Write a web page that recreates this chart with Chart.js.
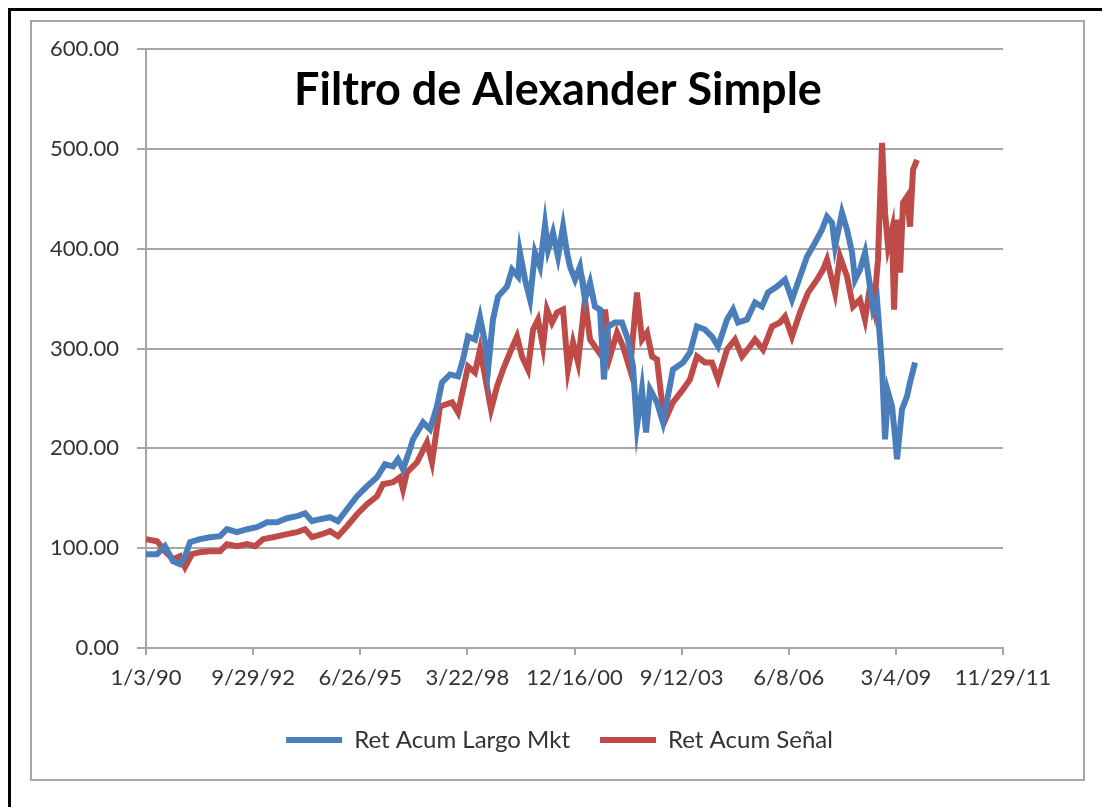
<!DOCTYPE html>
<html>
<head>
<meta charset="utf-8">
<script src="https://cdn.jsdelivr.net/npm/chart.js@4/dist/chart.umd.min.js"></script>
<style>
  html, body { margin: 0; padding: 0; background: #fff; }
  #marco { position: relative; width: 1102px; height: 807px; }
  #bordeNegro { position: absolute; left: 8px; top: 8px; right: 0; bottom: 0; border-left: 3px solid #000; border-top: 3px solid #000; }
  #bordeGris { position: absolute; left: 30px; top: 20px; width: 1051px; height: 757px; border: 2px solid #a6a6a6; }
  canvas { position: absolute; left: 0; top: 0; }
</style>
</head>
<body>
<div id="marco">
  <div id="bordeNegro"></div>
  <div id="bordeGris"></div>
  <canvas id="graficoFiltro" width="1102" height="807"></canvas>
</div>
<script>
// 1. Datos (dias desde 1/3/90 y retorno acumulado)
const titulo = 'Filtro de Alexander Simple';
const nombreMkt = 'Ret Acum Largo Mkt';
const nombreSenal = 'Ret Acum Señal';

const diasMkt = [0, 103, 177, 252, 317, 364, 411, 504, 598, 691, 756, 849, 943, 1036, 1130, 1223, 1316, 1409, 1484, 1550,
  1624, 1718, 1792, 1876, 1970, 2063, 2156, 2231, 2306, 2352, 2399, 2464, 2492, 2586, 2651, 2716, 2763, 2838, 2913, 2959,
  3006, 3071, 3118, 3165, 3193, 3239, 3286, 3370, 3417, 3473, 3491, 3538, 3585, 3631, 3678, 3725, 3753, 3799, 3846, 3893,
  3930, 3958, 4005, 4051, 4098, 4145, 4191, 4238, 4275, 4313, 4378, 4443, 4499, 4546, 4583, 4630, 4668, 4705, 4770, 4826,
  4919, 5013, 5078, 5143, 5218, 5283, 5340, 5424, 5480, 5526, 5610, 5685, 5750, 5806, 5890, 5965, 6030, 6105, 6170, 6245,
  6310, 6357, 6404, 6432, 6497, 6544, 6591, 6619, 6665, 6712, 6740, 6787, 6824, 6871, 6899, 6927, 6964, 6992, 7011, 7057,
  7104, 7132, 7179];
const retMkt = [94, 94, 102, 87, 84, 92, 106, 109, 111, 112, 119, 116, 119, 121, 126, 126, 130, 132, 135, 127,
  129, 131, 127, 139, 152, 162, 171, 184, 182, 189, 179, 199, 209, 226, 219, 242, 266, 274, 272, 289,
  312, 309, 331, 306, 279, 329, 352, 362, 379, 372, 396, 369, 349, 396, 382, 424, 399, 416, 392, 422,
  396, 382, 369, 382, 349, 366, 342, 339, 269, 322, 326, 326, 309, 282, 222, 259, 216, 259, 246, 226,
  279, 286, 296, 322, 319, 312, 302, 329, 339, 326, 329, 346, 342, 356, 362, 369, 349, 372, 392, 406,
  419, 432, 426, 402, 436, 419, 396, 369, 379, 396, 376, 339, 349, 282, 209, 256, 242, 212, 189, 239,
  252, 266, 286];

const diasSenal = [0, 103, 177, 252, 317, 364, 429, 504, 598, 691, 756, 849, 943, 1018, 1092, 1186, 1316, 1409, 1484, 1550,
  1643, 1718, 1792, 1876, 1970, 2063, 2156, 2212, 2306, 2371, 2399, 2436, 2530, 2623, 2670, 2744, 2857, 2913, 3006, 3071,
  3118, 3165, 3221, 3277, 3333, 3398, 3463, 3510, 3566, 3613, 3659, 3706, 3743, 3790, 3837, 3893, 3939, 3986, 4033, 4098,
  4145, 4210, 4257, 4285, 4331, 4397, 4453, 4518, 4583, 4630, 4677, 4724, 4770, 4807, 4845, 4919, 5013, 5078, 5143, 5218,
  5283, 5340, 5424, 5498, 5564, 5638, 5685, 5760, 5844, 5918, 5965, 6030, 6105, 6180, 6264, 6320, 6357, 6432, 6478, 6544,
  6600, 6665, 6712, 6759, 6796, 6833, 6871, 6899, 6927, 6964, 6983, 7011, 7039, 7067, 7104, 7132, 7160, 7197];
const retSenal = [109, 107, 97, 89, 92, 81, 94, 96, 97, 97, 104, 102, 104, 102, 109, 111, 114, 116, 119, 111,
  114, 117, 112, 122, 134, 144, 152, 164, 166, 171, 159, 176, 186, 206, 186, 242, 246, 236, 282, 276,
  299, 272, 239, 262, 279, 296, 312, 292, 279, 319, 329, 302, 339, 326, 336, 339, 279, 306, 286, 349,
  309, 299, 292, 339, 292, 316, 302, 279, 356, 309, 316, 292, 289, 255, 228, 246, 259, 269, 292, 286,
  286, 269, 299, 309, 292, 302, 309, 299, 322, 326, 332, 312, 336, 356, 369, 379, 389, 356, 392, 372,
  342, 349, 329, 362, 342, 389, 506, 436, 402, 419, 339, 429, 376, 446, 452, 422, 479, 489];

const ticksY = [0, 100, 200, 300, 400, 500, 600];
const fechaInicio = Date.UTC(1990, 0, 3);

function aPuntos(dias, valores) {
  return dias.map((d, i) => ({ x: d, y: valores[i] }));
}

function formatoFecha(dias) {
  const f = new Date(fechaInicio + dias * 86400000);
  const yy = String(f.getUTCFullYear() % 100).padStart(2, '0');
  return (f.getUTCMonth() + 1) + '/' + f.getUTCDate() + '/' + yy;
}

// 2. Plugins: titulo dentro del area y leyenda centrada como en el original
const tituloInterno = {
  id: 'tituloInterno',
  afterDraw(chart) {
    const c = chart.ctx;
    c.save();
    c.font = 'bold 45px Lato';
    c.fillStyle = '#000';
    c.textAlign = 'center';
    c.textBaseline = 'middle';
    c.fillText(titulo, 558, 90);
    c.restore();
  }
};

const moverLeyenda = {
  id: 'moverLeyenda',
  afterLayout(chart) {
    chart.legend.left += 58;
    chart.legend.right += 58;
  }
};

// 3. Grafico
const ctx = document.getElementById('graficoFiltro').getContext('2d');
const grafico = new Chart(ctx, {
  type: 'line',
  data: {
    datasets: [{
      label: nombreMkt,
      data: aPuntos(diasMkt, retMkt),
      borderColor: '#4a7ebb',
      backgroundColor: '#4a7ebb',
      borderWidth: 6,
      pointRadius: 0,
      tension: 0
    }, {
      label: nombreSenal,
      data: aPuntos(diasSenal, retSenal),
      borderColor: '#be4b48',
      backgroundColor: '#be4b48',
      borderWidth: 6,
      pointRadius: 0,
      tension: 0
    }]
  },
  options: {
    responsive: false,
    animation: false,
    layout: { padding: { left: 0, top: 49, right: 99, bottom: 45 } },
    plugins: {
      legend: {
        position: 'bottom',
        labels: {
          usePointStyle: true,
          pointStyle: 'line',
          pointStyleWidth: 56,
          boxHeight: 5,
          padding: 30,
          color: '#333',
          font: { family: 'Lato', size: 24 }
        }
      },
      tooltip: { enabled: false }
    },
    scales: {
      x: {
        type: 'linear',
        min: 0,
        max: 8000,
        afterFit(scale) { scale.height = 50; },
        ticks: {
          stepSize: 1000,
          color: '#333',
          padding: 10,
          maxRotation: 0,
          font: { family: 'Lato', size: 22 },
          callback: v => formatoFecha(v)
        },
        grid: { drawOnChartArea: false, color: '#a6a6a6', lineWidth: 2, tickLength: 7 },
        border: { color: '#a6a6a6', width: 2 }
      },
      y: {
        min: 0,
        max: 600,
        afterFit(scale) { scale.width = 146; },
        afterBuildTicks(scale) { scale.ticks = ticksY.map(v => ({ value: v })); },
        ticks: {
          color: '#333',
          padding: 18,
          font: { family: 'Lato', size: 22 },
          callback: v => v.toFixed(2)
        },
        grid: { color: '#a6a6a6', lineWidth: 2, tickLength: 9 },
        border: { color: '#a6a6a6', width: 2 }
      }
    }
  },
  plugins: [tituloInterno, moverLeyenda]
});
</script>
</body>
</html>
